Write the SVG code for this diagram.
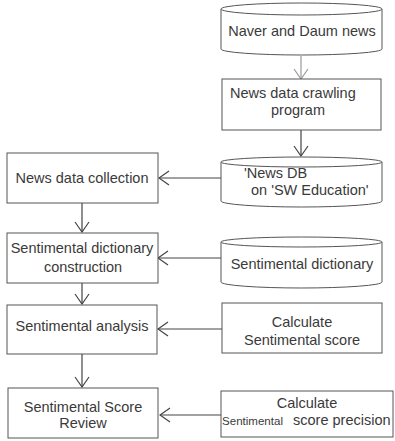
<svg xmlns="http://www.w3.org/2000/svg" width="395" height="441" viewBox="0 0 395 441">
<defs>
<style>
.s{fill:#fff;stroke:#555;stroke-width:1}
.t{font-family:"Liberation Sans",Arial,sans-serif;font-size:14.5px;fill:#3a3a3a}
.m{text-anchor:middle}
.c{fill:none;stroke:#444;stroke-width:1.2}
.g{fill:none;stroke:#999;stroke-width:1.2}
</style>
<marker id="a" markerWidth="12" markerHeight="16" refX="11" refY="8" orient="auto" markerUnits="userSpaceOnUse">
<path d="M1,1 L11,8 L1,15" fill="none" stroke="#444" stroke-width="1.2"/>
</marker>
<marker id="ag" markerWidth="12" markerHeight="16" refX="11" refY="8" orient="auto" markerUnits="userSpaceOnUse">
<path d="M1,1 L11,8 L1,15" fill="none" stroke="#999" stroke-width="1.2"/>
</marker>
</defs>
<rect width="395" height="441" fill="#fff"/>
<g id="connectors">
<line class="g" x1="301" y1="56" x2="301" y2="79" marker-end="url(#ag)"/>
<line class="c" x1="301" y1="130" x2="301" y2="156" marker-end="url(#a)"/>
<line class="c" x1="221" y1="178" x2="159" y2="178" marker-end="url(#a)"/>
<line class="c" x1="221" y1="258" x2="158" y2="258" marker-end="url(#a)"/>
<line class="c" x1="222" y1="329" x2="158" y2="329" marker-end="url(#a)"/>
<line class="c" x1="221" y1="415" x2="160" y2="415" marker-end="url(#a)"/>
<line class="c" x1="82" y1="203" x2="82" y2="232" marker-end="url(#a)"/>
<line class="c" x1="82" y1="283" x2="82" y2="304" marker-end="url(#a)"/>
<line class="c" x1="82" y1="354" x2="82" y2="387" marker-end="url(#a)"/>
</g>
<g id="naver">
<path class="s" d="M221,9 A80.5,6 0 0 1 382,9 L382,49 A80.5,6 0 0 1 221,49 Z"/>
<path class="s" d="M221,9 A80.5,6 0 0 0 382,9"/>
<text class="t m" x="302" y="36">Naver and Daum news</text>
</g>
<g id="crawl">
<rect class="s" x="222" y="79" width="159" height="51"/>
<text class="t" x="230" y="98">News data crawling</text>
<text class="t m" x="298" y="115">program</text>
</g>
<g id="newsdb">
<path class="s" d="M221,162 A80.5,5 0 0 1 382,162 L382,201 A80.5,6 0 0 1 221,201 Z"/>
<path class="s" d="M221,162 A80.5,5 0 0 0 382,162"/>
<text class="t" x="244" y="178">'News DB</text>
<text class="t" x="251" y="195">on 'SW Education'</text>
</g>
<g id="dict">
<path class="s" d="M221,242 A80.5,5 0 0 1 382,242 L382,282 A80.5,6 0 0 1 221,282 Z"/>
<path class="s" d="M221,242 A80.5,5 0 0 0 382,242"/>
<text class="t m" x="302" y="269">Sentimental dictionary</text>
</g>
<g id="calc">
<rect class="s" x="222" y="303" width="160" height="50"/>
<text class="t m" x="302" y="327">Calculate</text>
<text class="t m" x="302" y="345">Sentimental score</text>
</g>
<g id="precision">
<rect class="s" x="221" y="391" width="172" height="46"/>
<text class="t m" x="307" y="408">Calculate</text>
<text class="t" x="222" y="425"><tspan font-size="10.5" textLength="61" lengthAdjust="spacingAndGlyphs">Sentimental</tspan><tspan x="293">score precision</tspan></text>
</g>
<g id="collection">
<rect class="s" x="7" y="153" width="151" height="50"/>
<text class="t m" x="82" y="183">News data collection</text>
</g>
<g id="construction">
<rect class="s" x="7" y="233" width="151" height="50"/>
<text class="t m" x="82" y="253">Sentimental dictionary</text>
<text class="t m" x="83" y="272">construction</text>
</g>
<g id="analysis">
<rect class="s" x="7" y="305" width="150" height="49"/>
<text class="t m" x="82" y="331">Sentimental analysis</text>
</g>
<g id="review">
<rect class="s" x="8" y="388" width="150" height="50"/>
<text class="t m" x="83" y="412">Sentimental Score</text>
<text class="t m" x="83" y="428">Review</text>
</g>
</svg>
